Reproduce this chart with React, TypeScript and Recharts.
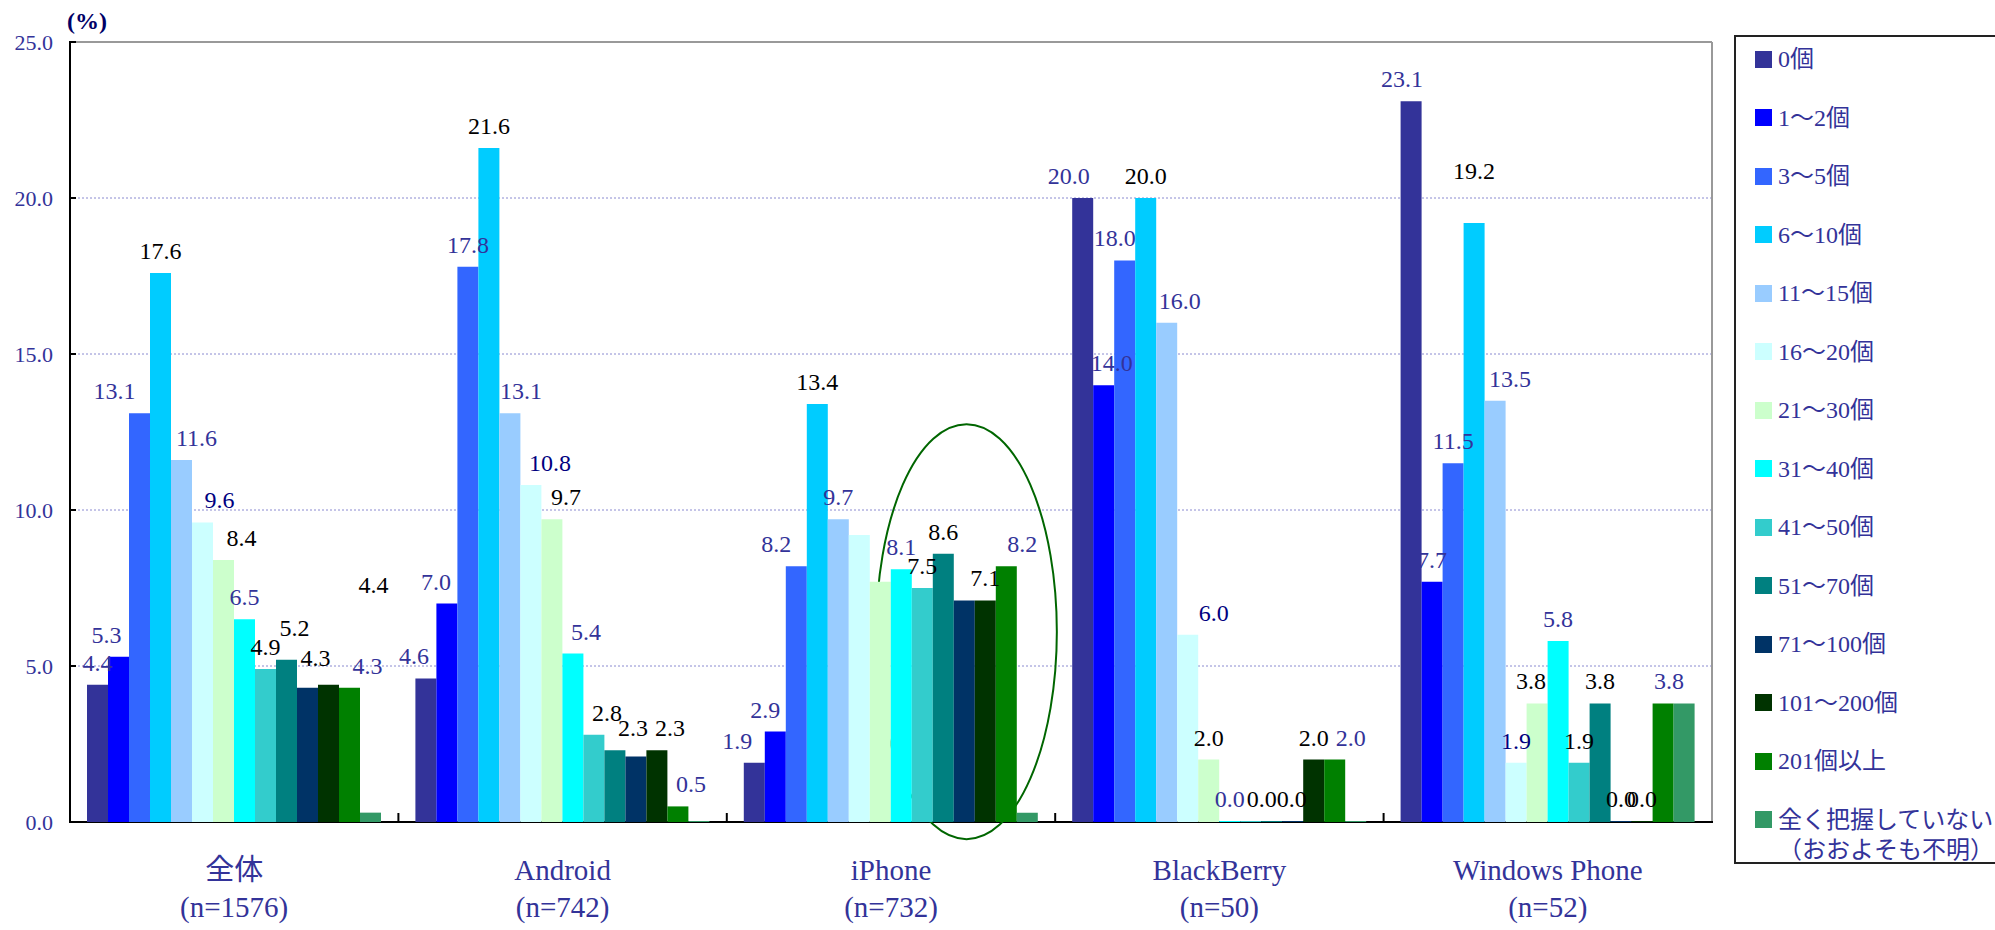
import React from 'react';
import { BarChart, Bar, XAxis, YAxis, CartesianGrid, LabelList, ReferenceArea } from 'recharts';

const FONT = "'Liberation Serif', 'Noto Sans CJK JP', serif";

const categories = ['全体', 'Android', 'iPhone', 'BlackBerry', 'Windows Phone'];
const sampleSizes = [1576, 742, 732, 50, 52];

const seriesNames = [
  '0個', '1～2個', '3～5個', '6～10個', '11～15個', '16～20個', '21～30個',
  '31～40個', '41～50個', '51～70個', '71～100個', '101～200個', '201個以上',
  '全く把握していない\n（おおよそも不明）',
];
const seriesColors = [
  '#333399', '#0000FF', '#3366FF', '#00CCFF', '#99CCFF', '#CCFFFF', '#CCFFCC',
  '#00FFFF', '#33CCCC', '#008080', '#003366', '#003300', '#008000', '#339966',
];
const labelColors = [
  '#333399', '#333399', '#333399', '#000000', '#333399', '#000080', '#000000',
  '#333399', '#000000', '#000000', '#000000', '#000000', '#333399', null,
];

// values per category, in series order
const valuesAll = [4.4, 5.3, 13.1, 17.6, 11.6, 9.6, 8.4, 6.5, 4.9, 5.2, 4.3, 4.4, 4.3, 0.3];
const valuesAndroid = [4.6, 7.0, 17.8, 21.6, 13.1, 10.8, 9.7, 5.4, 2.8, 2.3, 2.1, 2.3, 0.5, 0.0];
const valuesIPhone = [1.9, 2.9, 8.2, 13.4, 9.7, 9.2, 7.7, 8.1, 7.5, 8.6, 7.1, 7.1, 8.2, 0.3];
const valuesBlackBerry = [20.0, 14.0, 18.0, 20.0, 16.0, 6.0, 2.0, 0.0, 0.0, 0.0, 0.0, 2.0, 2.0, 0.0];
const valuesWindowsPhone = [23.1, 7.7, 11.5, 19.2, 13.5, 1.9, 3.8, 5.8, 1.9, 3.8, 0.0, 0.0, 3.8, 3.8];
const groupValues = [valuesAll, valuesAndroid, valuesIPhone, valuesBlackBerry, valuesWindowsPhone];

// data labels not shown in the original: [categoryIndex, seriesIndex]
const hiddenLabels = [[1, 10], [2, 5], [2, 6], [2, 10], [3, 10]];
// hand-moved data labels in the original: [categoryIndex, seriesIndex, dx, dy]
const labelNudges = [
  [0, 1, -12, 0], [0, 2, -25, 0], [0, 4, 15, 0], [0, 5, 17, 0], [0, 6, 18, 0],
  [0, 9, 8, -10], [0, 10, 8, -8], [0, 11, 45, -78], [0, 12, 18, 0],
  [1, 0, -12, 0], [1, 1, -11, 0], [1, 4, 11, 0], [1, 5, 19, 0], [1, 6, 14, 0],
  [1, 7, 13, 0], [1, 8, 13, 0], [1, 9, 18, 0], [1, 11, 13, 0], [1, 12, 13, 0],
  [2, 0, -17, 0], [2, 1, -10, 0], [2, 2, -20, 0], [2, 12, 16, 0],
  [3, 0, -14, 0], [3, 1, 8, 0], [3, 2, -10, 0], [3, 4, 13, 0], [3, 5, 26, 0],
  [3, 8, 11, 0], [3, 9, 20, 0], [3, 12, 16, 0],
  [4, 0, -9, 0], [4, 3, 0, -30], [4, 4, 15, 0], [4, 6, -6, 0], [4, 12, 6, 0],
];

const yTicks = [0, 5, 10, 15, 20, 25];
const yMax = 25;
const boundaryTicks = [1, 2, 3, 4];

const data = categories.map((name, ci) => {
  const row: Record<string, any> = { name, n: sampleSizes[ci] };
  seriesNames.forEach((_, si) => {
    row['s' + si] = groupValues[ci][si];
  });
  return row;
});

const makeLabel = (si: number) => (props: any) => {
  const { x, y, width, value, index } = props;
  if (labelColors[si] == null) return null;
  if (hiddenLabels.some(([g, s]) => g === index && s === si)) return null;
  const nudge = labelNudges.find(([g, s]) => g === index && s === si);
  const dx = nudge ? nudge[2] : 0;
  const dy = nudge ? nudge[3] : 0;
  return (
    <text
      x={Number(x) + Number(width) / 2 + dx}
      y={Number(y) - 14 + dy}
      textAnchor="middle"
      fill={labelColors[si] as string}
      fontSize={24}
      fontFamily={FONT}
    >
      {Number(value).toFixed(1)}
    </text>
  );
};

const CategoryTick = (props: any) => {
  const { x, y, payload } = props;
  const ci = categories.indexOf(payload.value);
  return (
    <g>
      <text x={x} y={y + 58} textAnchor="middle" fill="#333399" fontSize={29} fontFamily={FONT}>
        {payload.value}
      </text>
      <text x={x} y={y + 95} textAnchor="middle" fill="#333399" fontSize={29} fontFamily={FONT}>
        {`(n=${sampleSizes[ci]})`}
      </text>
    </g>
  );
};

const ellipseShape = (p: any) => (
  <ellipse
    cx={p.x + p.width * 0.73}
    cy={p.y + p.height / 2}
    rx={p.width * 0.275}
    ry={Math.abs(p.height) / 2}
    fill="none"
    stroke="#006600"
    strokeWidth={2}
  />
);

// plot frame: black axes on the left and bottom, grey border top/right, inward ticks
const frameShape = (p: any) => {
  const left = p.x;
  const right = p.x + p.width;
  const top = p.y;
  const bottom = p.y + p.height;
  return (
    <g>
      <line x1={left} y1={top} x2={right} y2={top} stroke="#999" strokeWidth={2} />
      <line x1={right} y1={top} x2={right} y2={bottom} stroke="#999" strokeWidth={2} />
      <line x1={left} y1={top - 1} x2={left} y2={bottom + 1} stroke="#000" strokeWidth={2} />
      <line x1={left - 1} y1={bottom} x2={right + 1} y2={bottom} stroke="#000" strokeWidth={2} />
      {yTicks
        .filter((t) => t > 0)
        .map((t) => {
          const ty = bottom - (p.height * t) / yMax;
          return <line key={'y' + t} x1={left} y1={ty} x2={left + 6} y2={ty} stroke="#000" strokeWidth={2} />;
        })}
      {boundaryTicks.map((b) => {
        const bx = left + (p.width * b) / categories.length;
        return <line key={'b' + b} x1={bx} y1={bottom} x2={bx} y2={bottom - 9} stroke="#000" strokeWidth={2} />;
      })}
    </g>
  );
};

export default function App() {
  return (
    <div
      style={{
        position: 'absolute',
        left: 0,
        top: 0,
        width: 1995,
        height: 930,
        overflow: 'hidden',
        background: '#fff',
        fontFamily: FONT,
      }}
    >
      <BarChart
        width={1995}
        height={930}
        data={data}
        margin={{ top: 42, right: 283, bottom: 0, left: 0 }}
        barGap={0}
        barCategoryGap={17}
      >
        <CartesianGrid vertical={false} stroke="#8a8ad0" strokeDasharray="2 2" />
        <XAxis
          dataKey="name"
          height={108}
          interval={0}
          tickLine={false}
          tickSize={0}
          tickMargin={0}
          axisLine={false}
          tick={<CategoryTick />}
        />
        <YAxis
          domain={[0, yMax]}
          ticks={yTicks}
          width={70}
          tickFormatter={(v: number) => v.toFixed(1)}
          tick={{ fill: '#333399', fontSize: 22, fontFamily: FONT }}
          tickSize={-6}
          tickMargin={23}
          tickLine={false}
          axisLine={false}
        />
        {seriesNames.map((name, si) => (
          <Bar
            key={si}
            dataKey={'s' + si}
            name={name}
            fill={seriesColors[si]}
            minPointSize={1}
            isAnimationActive={false}
          >
            {labelColors[si] != null && <LabelList dataKey={'s' + si} content={makeLabel(si)} />}
          </Bar>
        ))}
        <ReferenceArea
          x1={categories[0]}
          x2={categories[categories.length - 1]}
          y1={0}
          y2={yMax}
          ifOverflow="visible"
          shape={frameShape}
        />
        <ReferenceArea
          x1="iPhone"
          x2="iPhone"
          y1={-0.55}
          y2={12.75}
          ifOverflow="visible"
          shape={ellipseShape}
        />
      </BarChart>

      <div
        style={{
          position: 'absolute',
          left: 67,
          top: 6,
          fontSize: 24,
          fontWeight: 'bold',
          color: '#000066',
          lineHeight: '30px',
          fontFamily: FONT,
        }}
      >
        (%)
      </div>

      <div
        style={{
          position: 'absolute',
          left: 1734,
          top: 35,
          width: 275,
          height: 829,
          border: '2px solid #222',
          boxSizing: 'border-box',
          background: '#fff',
        }}
      >
        {seriesNames.map((name, si) => (
          <div
            key={si}
            style={{
              position: 'absolute',
              left: 19,
              top: 7 + 58.5 * si,
              display: 'flex',
              alignItems: 'flex-start',
            }}
          >
            <div
              style={{
                width: 17,
                height: 17,
                marginTop: 6.5,
                background: seriesColors[si],
                flex: 'none',
              }}
            />
            <div
              style={{
                marginLeft: 6,
                fontSize: 24,
                lineHeight: '30px',
                color: '#333399',
                whiteSpace: 'pre',
                fontFamily: FONT,
              }}
            >
              {name}
            </div>
          </div>
        ))}
      </div>
    </div>
  );
}
